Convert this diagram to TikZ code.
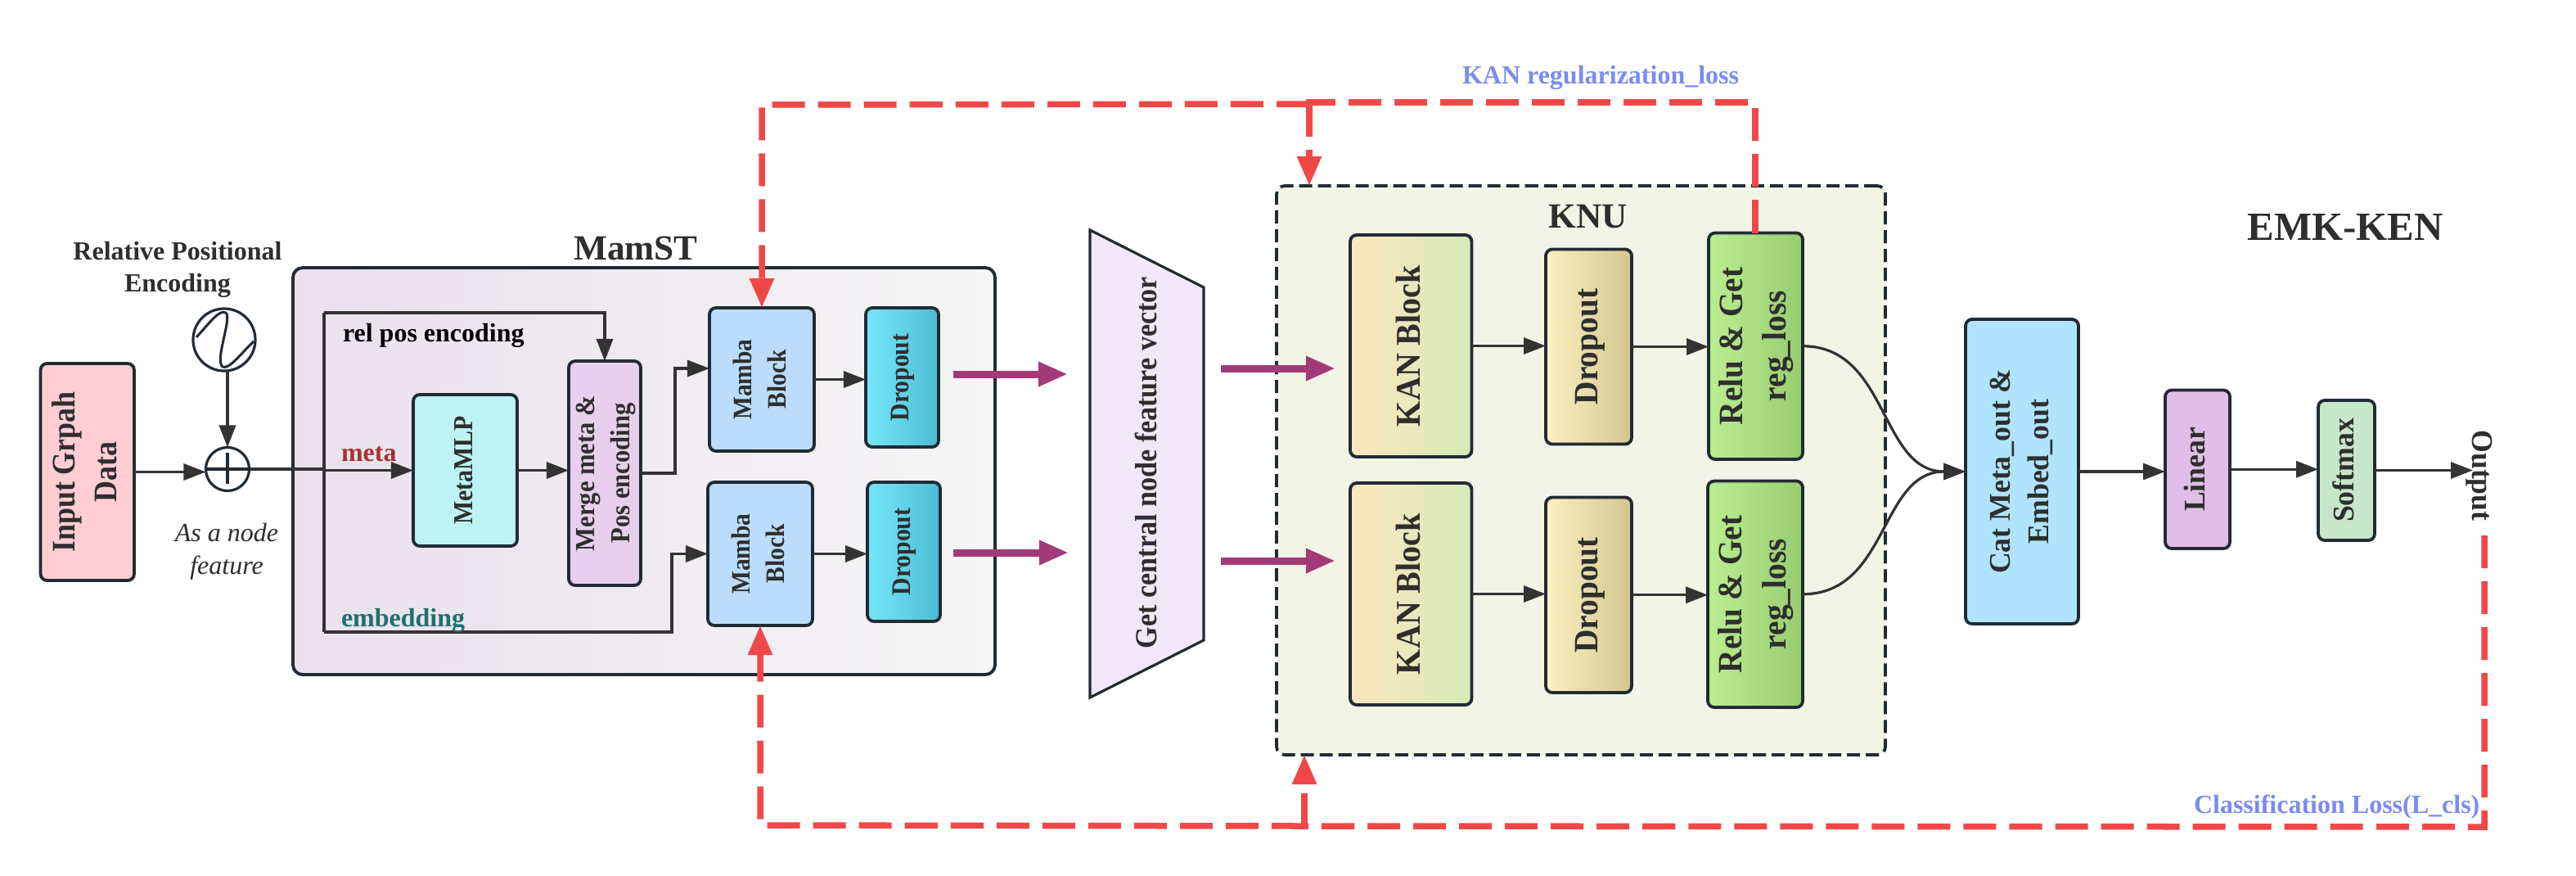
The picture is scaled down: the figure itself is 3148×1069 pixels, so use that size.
\documentclass[tikz,border=0pt]{standalone}
\usepackage{fontspec}
\usepackage{graphicx}
\setmainfont{Liberation Serif}
\usetikzlibrary{arrows.meta,shapes.geometric}
\definecolor{ink}{HTML}{222B33}
\definecolor{wire}{HTML}{333333}
\definecolor{redl}{HTML}{F04848}
\definecolor{purp}{HTML}{A33A78}
\definecolor{lossb}{HTML}{7B8CF0}
\definecolor{knubg}{HTML}{F2F5E6}
\definecolor{rose}{HTML}{FFCDD2}
\definecolor{mamL}{HTML}{E9E0EB}
\definecolor{mamR}{HTML}{F6F6F6}
\definecolor{mlpc}{HTML}{BDF3F4}
\definecolor{mergec}{HTML}{E9CFEE}
\definecolor{mambac}{HTML}{BBDDFB}
\definecolor{dropl}{HTML}{76E8FA}
\definecolor{dropr}{HTML}{4DBBD5}
\definecolor{metac}{HTML}{A83232}
\definecolor{embc}{HTML}{1F7070}
\definecolor{trapc}{HTML}{F0E8F8}
\definecolor{kanl}{HTML}{FDE6C0}
\definecolor{kanr}{HTML}{D5EBB8}
\definecolor{dkl}{HTML}{FBF0C0}
\definecolor{dkr}{HTML}{D4C690}
\definecolor{relul}{HTML}{BBEE90}
\definecolor{relur}{HTML}{98CC70}
\definecolor{catc}{HTML}{B0E3FC}
\definecolor{linc}{HTML}{E1BEE7}
\definecolor{softc}{HTML}{C8E6C9}
\newcommand{\vt}[3]{\rotatebox{90}{\scalebox{1}[#2]{\fontsize{#1}{1.28\dimexpr#1\relax}\selectfont\bfseries\begin{tabular}{@{}c@{}}#3\end{tabular}}}}
\newcommand{\bx}[7]{\node[bxs,#6,minimum width={(#4-#2)*0.01cm},minimum height={(#5-#3)*0.01cm}] (#1) at ({(#2+#4)/2},{(#3+#5)/2}) {#7};}
\tikzset{
 bxs/.style={draw=ink,line width=0.038cm,rounded corners=0.08cm,inner sep=0,outer sep=0,text=black!82},
 wirel/.style={draw=wire,line width=0.032cm},
 arr/.style={wirel,-{Triangle[length=0.27cm,width=0.2cm]}},
 redp/.style={draw=redl,line width=0.075cm,dash pattern=on 0.4cm off 0.16cm},
 reda/.style={redp,-{Triangle[length=0.36cm,width=0.285cm]}},
 purpa/.style={draw=purp,line width=0.09cm,-{Triangle[length=0.36cm,width=0.28cm]}},
 lab/.style={anchor=base west,inner sep=0,outer sep=0,font=\fontsize{9.1pt}{11pt}\selectfont\bfseries},
 titl/.style={anchor=base,inner sep=0,outer sep=0,text=black!82,font=\fontsize{12.3pt}{15pt}\selectfont\bfseries},
}
\begin{document}
\begin{tikzpicture}[x=0.01cm,y=-0.01cm]
\useasboundingbox[fill=white] (0,0) rectangle (3148,1069);
% containers
\bx{mamst}{358}{327}{1216}{824}{left color=mamL,right color=mamR,rounded corners=0.12cm}{}
\node[draw=ink,dash pattern=on 0.16cm off 0.07cm,line width=0.038cm,rounded corners=0.1cm,fill=knubg,inner sep=0,outer sep=0,minimum width={(2304-1560)*0.01cm},minimum height={(922-227)*0.01cm}] (knu) at (1932,574.5) {};
% input
\bx{input}{49.5}{444}{164}{709}{fill=rose}{\vt{10.2pt}{1.12}{Input Grpah\\Data}}
\node[draw=ink,circle,line width=0.032cm,minimum size=0.76cm,inner sep=0,outer sep=0] (sine) at (274,415) {};
\draw[draw=ink,line width=0.03cm] (240,412) .. controls (258,392) and (268,378) .. (276,382) .. controls (284,388) and (262,440) .. (272,448) .. controls (280,452) and (296,430) .. (310,417);
\node[draw=ink,circle,line width=0.032cm,minimum size=0.53cm,inner sep=0,outer sep=0] (plus) at (278,573) {};
\draw[draw=ink,line width=0.032cm] (plus.north) ++(0,7) -- ++(0,38);
\draw[draw=ink,line width=0.032cm] (plus.west) -- (plus.east);
\node[anchor=base,inner sep=0,font=\fontsize{9.1pt}{11pt}\selectfont\bfseries,text=black!82] (rpe1) at (217,317) {Relative Positional};
\node[anchor=base,inner sep=0,font=\fontsize{9.1pt}{11pt}\selectfont\bfseries,text=black!82] (rpe2) at (217,356) {Encoding};
\node[anchor=base,inner sep=0,font=\fontsize{9.1pt}{11pt}\selectfont\itshape,text=black!82] (anf1) at (277,661) {As a node};
\node[anchor=base,inner sep=0,font=\fontsize{9.1pt}{11pt}\selectfont\itshape,text=black!82] (anf2) at (277,701) {feature};
% MamST blocks
\bx{mlp}{505}{482}{632}{667}{fill=mlpc}{\vt{8.5pt}{1.12}{MetaMLP}}
\bx{merge}{695}{441}{783}{715}{fill=mergec}{\vt{8.7pt}{1.1}{Merge meta \&\\Pos encoding}}
\bx{mamba1}{867}{376}{995}{551}{fill=mambac}{\vt{8.4pt}{1.1}{Mamba\\Block}}
\bx{mamba2}{865}{589}{993}{764}{fill=mambac}{\vt{8.4pt}{1.1}{Mamba\\Block}}
\bx{dropa}{1058}{376}{1147}{546}{left color=dropl,right color=dropr}{\vt{8.45pt}{1.1}{Dropout}}
\bx{dropb}{1060}{589}{1149}{759}{left color=dropl,right color=dropr}{\vt{8.45pt}{1.1}{Dropout}}
% wires
\coordinate (br) at (396,573);
\coordinate (reltop) at (396,382);
\coordinate (embbot) at (396,772);
\coordinate (embup) at (821,772);
\coordinate (m1in) at (825,450);
\draw[arr] (input.east) -- (plus.west |- input.east);
\draw[arr] (sine.south -| plus.north) -- (plus.north);
\draw[wirel] (plus.east) -- (br);
\draw[arr] (br |- mlp.west) -- (mlp.west);
\draw[arr] (mlp.east) -- (merge.west |- mlp.east);
\draw[wirel] (reltop) -- (embbot);
\draw[arr] (reltop) -- (reltop -| merge.north) -- (merge.north);
\draw[arr] (embbot) -- (embup) -- (embup |- mamba2.west) -- (mamba2.west);
\draw[arr] (merge.east) -| (m1in) -- (m1in -| mamba1.west);
\draw[arr] (mamba1.east) -- (dropa.west |- mamba1.east);
\draw[arr] (mamba2.east) -- (dropb.west |- mamba2.east);
% labels
\node[lab,text=black] (lrel) at (419,417) {rel pos encoding};
\node[lab,text=metac] (lmeta) at (417,563) {meta};
\node[lab,text=embc] (lemb) at (417,765) {embedding};
\node[titl] (tmam) at (777,317) {MamST};
% trapezoid
\draw[draw=ink,line width=0.032cm,fill=trapc] (1332,281) -- (1471,351) -- (1471,782) -- (1332,852) -- cycle;
\node[inner sep=0,text=black!82] (gcn) at (1404,565) {\vt{9.7pt}{1.1}{Get central node feature vector}};
% KNU blocks
\node[titl] (tknu) at (1941,278) {KNU};
\bx{kana}{1650}{287}{1798.5}{558}{left color=kanl,right color=kanr}{\vt{11.4pt}{1.06}{KAN Block}}
\bx{kanb}{1650}{590}{1798.5}{861}{left color=kanl,right color=kanr}{\vt{11.4pt}{1.06}{KAN Block}}
\bx{dka}{1889}{304.5}{1994}{542.5}{left color=dkl,right color=dkr}{\vt{11.2pt}{1.06}{Dropout}}
\bx{dkb}{1889}{607.5}{1994}{846}{left color=dkl,right color=dkr}{\vt{11.2pt}{1.06}{Dropout}}
\bx{relua}{2088}{284.5}{2203}{561}{left color=relul,right color=relur}{\vt{11.2pt}{1.06}{Relu \& Get\\reg\_loss}}
\bx{relub}{2087}{587.5}{2203}{864}{left color=relul,right color=relur}{\vt{11.2pt}{1.06}{Relu \& Get\\reg\_loss}}
\draw[arr] (kana.east) -- (dka.west |- kana.east);
\draw[arr] (kanb.east) -- (dkb.west |- kanb.east);
\draw[arr] (dka.east) -- (relua.west |- dka.east);
\draw[arr] (dkb.east) -- (relub.west |- dkb.east);
% right side
\bx{cat}{2402}{390}{2540}{762}{fill=catc}{\vt{10.15pt}{1.03}{Cat Meta\_out \&\\Embed\_out}}
\bx{linear}{2646}{476.5}{2725}{670}{fill=linc}{\vt{10.15pt}{1.03}{Linear}}
\bx{softm}{2833}{489}{2902}{660}{fill=softc}{\vt{10.15pt}{1.03}{Softmax}}
\node[inner sep=0,outer sep=0,text=black!82] (outp) at (3030,581) {\rotatebox{-90}{\scalebox{1}[1.03]{\fontsize{10.15pt}{13pt}\selectfont\bfseries Output}}};
\coordinate (outin) at (3022,574.5);
\draw[arr] (relua.east) .. controls +(105,0) and +(-105,0) .. (cat.west);
\draw[arr] (relub.east) .. controls +(105,0) and +(-105,0) .. (cat.west);
\draw[arr] (cat.east) -- (linear.west |- cat.east);
\draw[arr] (linear.east) -- (softm.west |- linear.east);
\draw[arr] (softm.east) -- (outin);
\node[titl,font=\fontsize{13.9pt}{17pt}\selectfont\bfseries] (temk) at (2866,293) {EMK-KEN};
% purple arrows
\coordinate (pa1) at (1165,457); \coordinate (pa2) at (1305,457);
\coordinate (pb1) at (1165,675); \coordinate (pb2) at (1306,675);
\coordinate (pc1) at (1492,450); \coordinate (pc2) at (1632,450);
\coordinate (pd1) at (1492,685); \coordinate (pd2) at (1632,685);
\draw[purpa] (pa1) -- (pa2);
\draw[purpa] (pb1) -- (pb2);
\draw[purpa] (pc1) -- (pc2);
\draw[purpa] (pd1) -- (pd2);
% red loss paths
\coordinate (topr) at (2145,125);
\coordinate (brA) at (1600,127);
\coordinate (topl) at (931,128);
\coordinate (outs) at (3036,654);
\coordinate (botr) at (3036,1010);
\coordinate (brB) at (1594,1009);
\coordinate (botl) at (929,1008);
\draw[redp] (relua.north -| topr) -- (topr) -- (brA |- topr) -- (brA);
\draw[reda] (brA) -- (brA |- knu.north);
\draw[reda] (brA) -- (topl) -- (mamba1.north);
\draw[redp] (outs) -- (botr) -- (brB);
\draw[reda] (brB) -- (brB |- knu.south);
\draw[reda] (brB) -- (botl) -- (mamba2.south);
\node[lab,text=lossb] (lkan) at (1787,102) {KAN regularization\_loss};
\node[lab,text=lossb] (lcls) at (2681,993) {Classification Loss(L\_cls)};
\end{tikzpicture}
\end{document}
